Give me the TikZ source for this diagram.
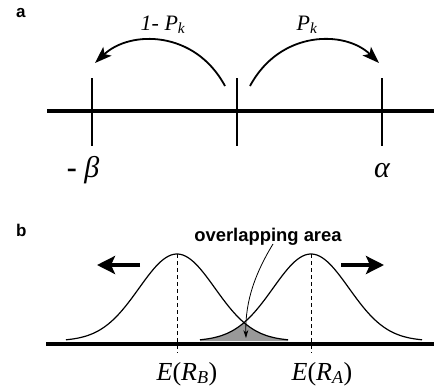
\documentclass[tikz,border=0pt]{standalone}
\usepackage{fontspec}
\setmainfont{Liberation Serif}
\newfontfamily\helv{Liberation Sans}
\usetikzlibrary{arrows.meta}

\tikzset{
  axisline/.style={line width=3.3pt},
  tickline/.style={line width=1.3pt},
  jump/.style={line width=1.8pt,-{Stealth[length=17pt,width=12pt,inset=4pt]}},
  shove/.style={line width=4pt,-{Stealth[length=18pt,width=18pt,inset=4pt]}},
  bell/.style={line width=1.2pt},
  meanline/.style={line width=0.9pt,dash pattern=on 4pt off 3pt},
  pointer/.style={line width=0.8pt,-{Stealth[length=8pt,width=5pt]}},
  panel/.style={font=\helv\bfseries\fontsize{17}{19}\selectfont,inner sep=0pt},
  prob/.style={font=\itshape\fontsize{22}{26}\selectfont,inner sep=0pt},
  bound/.style={font=\itshape\fontsize{30}{34}\selectfont,inner sep=0pt},
  mean/.style={font=\fontsize{26}{30}\selectfont,inner sep=0pt}
}

\begin{document}
\begin{tikzpicture}[x=1pt,y=-1pt,line join=round,
  declare function={gb(\x)=341-87*exp(-((\x-177)^2)/2888);
                    ga(\x)=341-87*exp(-((\x-311)^2)/2888);}]
  \useasboundingbox (0,0) rectangle (434,389);

  % ---- a: random walk between the two bounds ---------------------------
  \node[panel,anchor=base west] (la) at (16,17) {a};
  \coordinate (axL) at (47,111);
  \coordinate (axR) at (434,111);
  \draw[axisline] (axL) -- (axR);
  \foreach \n/\x in {beta/92,start/237,alpha/382}
    \draw[tickline] (\x,78) coordinate (\n top) -- (\x,146) coordinate (\n bot);
  \coordinate (leftgo) at (225,86);
  \coordinate (rightgo) at (250,86);
  \coordinate (betahit) at (95,63);
  \coordinate (alphahit) at (379,63);
  \draw[jump] (leftgo) .. controls (195,30) and (130,30) .. (betahit);
  \draw[jump] (rightgo) .. controls (280,30) and (345,30) .. (alphahit);
  \node[prob,anchor=base] (pl) at (163,30) {1- P\textsubscript{k}};
  \node[prob,anchor=base] (pr) at (307,30) {P\textsubscript{k}};
  \node[bound,anchor=base] (nb) at (83,177) {{\upshape\bfseries -} β};
  \node[bound,anchor=base] (na) at (382,177) {α};

  % ---- b: the two return distributions ----------------------------------
  \node[panel,anchor=base west] (lb) at (16,236) {b};
  \fill[black!40] (200,341)
    -- plot[domain=200:244,samples=40,smooth] (\x,{ga(\x)})
    -- plot[domain=244:288,samples=40,smooth] (\x,{gb(\x)})
    -- (288,341) -- cycle;
  \coordinate (bxL) at (46,344);
  \coordinate (bxR) at (434,344);
  \draw[axisline] (bxL) -- (bxR);
  \draw[bell] plot[domain=66:288,samples=90,smooth] (\x,{gb(\x)});
  \draw[bell] plot[domain=200:422,samples=90,smooth] (\x,{ga(\x)});
  \draw[meanline] (177,254) coordinate (peakB) -- (177,353) coordinate (footB);
  \draw[meanline] (311,254) coordinate (peakA) -- (311,353) coordinate (footA);
  \node[mean,anchor=base] (eb) at (187,380) {\textit{E}(\textit{R}\textsubscript{\textit{B}})};
  \node[mean,anchor=base] (ea) at (322,380) {\textit{E}(\textit{R}\textsubscript{\textit{A}})};
  \coordinate (outB) at (140,265);
  \coordinate (outA) at (341,265);
  \draw[shove] (outB) -- ++(-43,0) coordinate (tipB);
  \draw[shove] (outA) -- ++(43,0) coordinate (tipA);
  \node[font=\helv\bfseries\fontsize{18.4}{21}\selectfont,inner sep=0pt,anchor=base] (ov) at (268,241) {overlapping area};
  \coordinate (ovtip) at (246,338);
  \draw[pointer] (273,244) .. controls (256,272) and (245,300) .. (ovtip);

\end{tikzpicture}
\end{document}
